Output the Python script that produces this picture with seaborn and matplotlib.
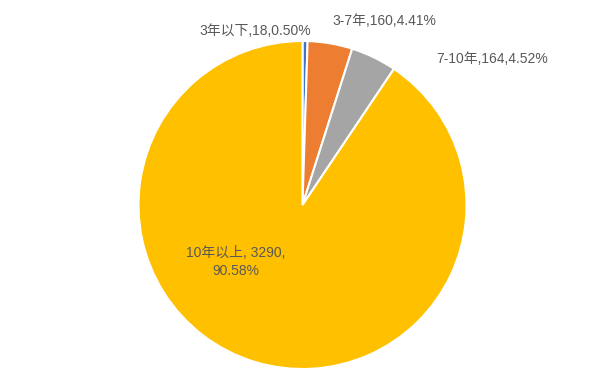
import matplotlib
matplotlib.use("Agg")
import matplotlib.pyplot as plt
import seaborn as sns

categories = ["3年以下", "3-7年", "7-10年", "10年以上"]
counts = [18, 160, 164, 3290]
percents = ["0.50%", "4.41%", "4.52%", "90.58%"]
colors = ["#4472C4", "#ED7D31", "#A5A5A5", "#FFC000"]

sns.set_style("white")
plt.rcParams['font.family'] = ['Liberation Sans', 'Noto Sans CJK SC', 'DejaVu Sans']

fig = plt.figure(figsize=(6, 3.84), dpi=100)
ax = fig.add_axes([0, 0, 1, 1])

ax.pie(counts, colors=sns.color_palette(colors), startangle=90, counterclock=False,
       center=(302.5, 179), radius=164,
       wedgeprops=dict(edgecolor='white', linewidth=1.5))
ax.set_xlim(0, 600)
ax.set_ylim(0, 384)
ax.set_aspect('equal')
ax.axis('off')

labels = [f"{c},{n},{p}" for c, n, p in zip(categories[:3], counts[:3], percents[:3])]
labels.append(f"{categories[3]}, {counts[3]},\n{percents[3]}")
pos = [(255, 353), (384, 363), (492, 325), (236, 122)]
for (x, y), t in zip(pos, labels):
    ax.text(x, y, t, ha='center', va='center', fontsize=10, color='#595959',
            linespacing=1.4)

fig.savefig("out.png", dpi=100)
